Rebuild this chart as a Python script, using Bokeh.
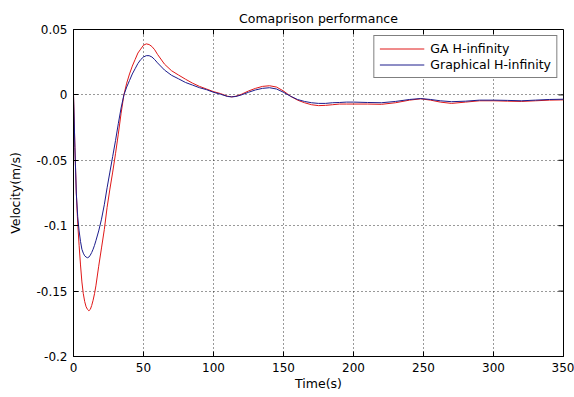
import math
from bokeh.plotting import figure
from bokeh.models import FixedTicker, Legend, LegendItem, Range1d
from bokeh.embed import file_html
from bokeh.resources import INLINE

# ---- data ----
t = [0, 1, 2, 3, 4, 5, 6, 7, 8, 9, 10, 11, 12, 13, 14, 15, 16, 18, 20, 22, 24, 26, 28,
     30, 32, 34, 36, 38, 40, 42, 44, 46, 48, 50, 52, 54, 56, 58, 60, 65, 70, 75, 80, 85,
     90, 95, 100, 105, 110, 113, 116, 120, 125, 130, 135, 140, 145, 150, 155, 160, 165,
     170, 175, 180, 185, 190, 195, 200, 210, 220, 230, 240, 248, 255, 262, 270, 280, 290,
     300, 310, 320, 330, 340, 350]

ga_hinf = [0.0, -0.04, -0.075, -0.098, -0.115, -0.13, -0.143, -0.152, -0.158, -0.162,
           -0.164, -0.165, -0.164, -0.161, -0.157, -0.152, -0.146, -0.131, -0.117, -0.103,
           -0.086, -0.072, -0.059, -0.045, -0.030, -0.014, 0.0, 0.009, 0.016, 0.022, 0.027,
           0.032, 0.035, 0.038, 0.039, 0.0385, 0.037, 0.0345, 0.031, 0.0235, 0.0185, 0.0152,
           0.012, 0.009, 0.0065, 0.0045, 0.0025, 0.001, -0.001, -0.0015, -0.001, 0.0005,
           0.003, 0.005, 0.0065, 0.007, 0.006, 0.003, -0.001, -0.004, -0.006, -0.0075,
           -0.0082, -0.008, -0.0075, -0.007, -0.007, -0.007, -0.007, -0.0072, -0.006,
           -0.004, -0.003, -0.004, -0.0055, -0.0065, -0.0055, -0.0045, -0.0045, -0.0048,
           -0.005, -0.0045, -0.004, -0.0038]

graph_hinf = [0.0, -0.04, -0.075, -0.093, -0.104, -0.112, -0.118, -0.121, -0.123, -0.124,
              -0.1245, -0.124, -0.1225, -0.1205, -0.118, -0.115, -0.1115, -0.104, -0.095,
              -0.084, -0.071, -0.059, -0.047, -0.035, -0.022, -0.010, 0.0, 0.006, 0.011,
              0.016, 0.020, 0.024, 0.027, 0.029, 0.030, 0.030, 0.029, 0.027, 0.0245, 0.019,
              0.015, 0.0123, 0.0095, 0.0075, 0.0055, 0.004, 0.002, 0.0005, -0.0012, -0.0015,
              -0.0012, 0.0, 0.002, 0.0038, 0.005, 0.0055, 0.0045, 0.002, -0.001, -0.0035,
              -0.005, -0.006, -0.0065, -0.0065, -0.006, -0.0058, -0.0055, -0.0055, -0.0058,
              -0.006, -0.005, -0.0035, -0.0028, -0.0035, -0.0045, -0.0052, -0.0048, -0.004,
              -0.004, -0.0042, -0.0045, -0.004, -0.0035, -0.0033]

x_ticks = [0, 50, 100, 150, 200, 250, 300, 350]
y_ticks = [-0.2, -0.15, -0.1, -0.05, 0, 0.05]
y_tick_labels = ["-0.2", "-0.15", "-0.1", "-0.05", "0", "0.05"]

FONT = "DejaVu Sans"
X0, X1 = 0, 350
Y0, Y1 = -0.2, 0.05

p = figure(width=574, height=397, output_backend="svg", toolbar_location=None,
           x_range=Range1d(X0, X1), y_range=Range1d(Y0, Y1),
           min_border_left=73, min_border_right=11, min_border_top=29, min_border_bottom=41,
           title="Comaprison performance")
p.background_fill_color = "white"
p.border_fill_color = "white"
p.outline_line_color = "black"
p.outline_line_width = 1

p.title.align = "center"
p.title.text_font = FONT
p.title.text_font_size = "12.5px"
p.title.text_font_style = "normal"
p.title.text_color = "black"
p.title.standoff = 8

p.xgrid.ticker = FixedTicker(ticks=x_ticks)
p.ygrid.ticker = FixedTicker(ticks=y_ticks)
for g in (p.xgrid[0], p.ygrid[0]):
    g.grid_line_color = "black"
    g.grid_line_dash = "1 3"
    g.grid_line_width = 1
    g.grid_line_alpha = 0.8

r1 = p.line(t, ga_hinf, line_color="#e01818", line_width=1)
r2 = p.line(t, graph_hinf, line_color="#1c1c8c", line_width=1)

for ax in (p.xaxis[0], p.yaxis[0]):
    ax.axis_line_color = "black"
    ax.major_tick_in = 5
    ax.major_tick_out = 0
    ax.minor_tick_line_color = None
    ax.major_label_text_font = FONT
    ax.major_label_text_font_size = "12px"
    ax.major_label_text_color = "black"
    ax.axis_label_text_font = FONT
    ax.axis_label_text_font_size = "12.5px"
    ax.axis_label_text_font_style = "normal"
    ax.axis_label_text_color = "black"

p.xaxis[0].ticker = FixedTicker(ticks=x_ticks)
p.yaxis[0].ticker = FixedTicker(ticks=y_ticks)
p.yaxis[0].major_label_overrides = {v: s for v, s in zip(y_ticks, y_tick_labels)}
p.xaxis[0].axis_label = "Time(s)"
p.yaxis[0].axis_label = "Velocity(m/s)"
p.xaxis[0].major_label_standoff = 6
p.yaxis[0].major_label_standoff = 6
p.xaxis[0].axis_label_standoff = 1
p.yaxis[0].axis_label_standoff = 10

# inward ticks on the top and right edges of the box
p.ray(x=x_ticks, y=Y1, length=5, length_units="screen", angle=-math.pi / 2,
      line_color="black", line_width=1)
p.ray(x=X1, y=y_ticks, length=5, length_units="screen", angle=math.pi,
      line_color="black", line_width=1)

legend = Legend(items=[LegendItem(label="GA H-infinity", renderers=[r1]),
                       LegendItem(label="Graphical H-infinity", renderers=[r2])],
                location="top_right")
legend.margin = 6
legend.padding = 5
legend.spacing = 1
legend.glyph_width = 45
legend.glyph_height = 15
legend.label_standoff = 6
legend.label_height = 15
legend.label_text_font = FONT
legend.label_text_font_size = "12.5px"
legend.label_text_color = "black"
legend.border_line_color = "black"
legend.border_line_width = 1
legend.background_fill_color = "white"
legend.background_fill_alpha = 1
p.add_layout(legend, "center")

open("out.html", "w").write(file_html(p, INLINE))
